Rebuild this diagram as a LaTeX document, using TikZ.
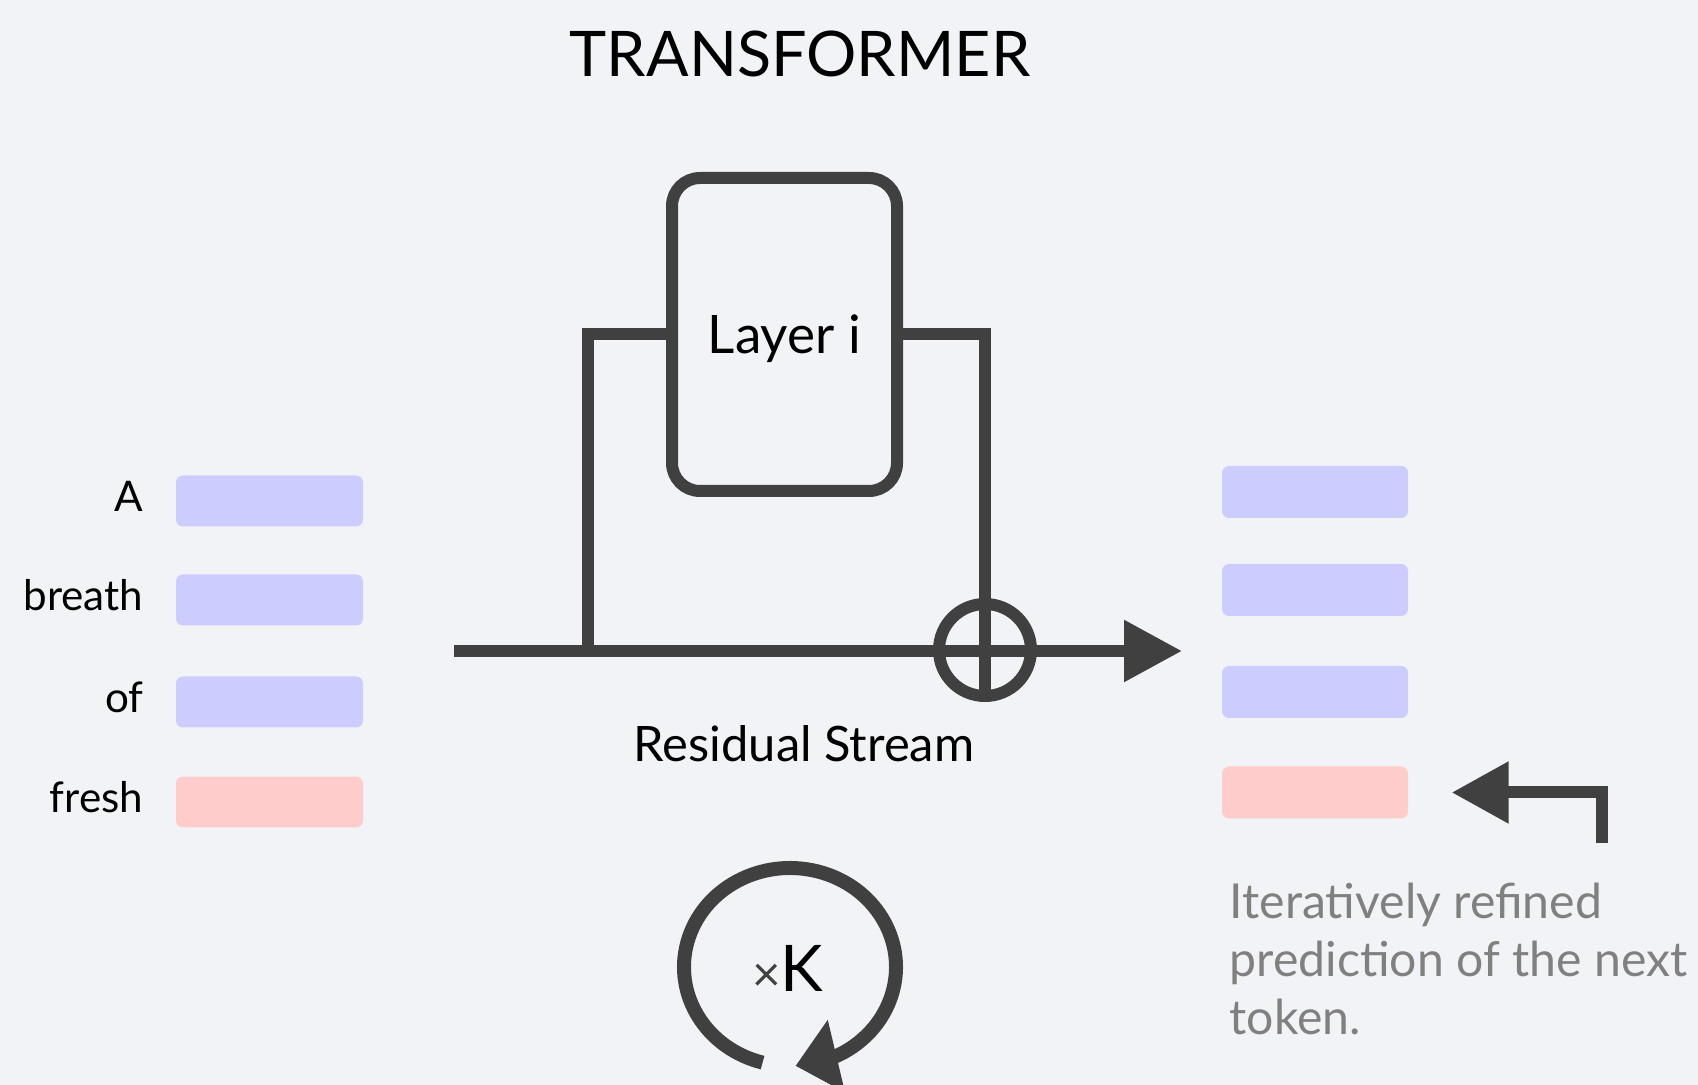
\documentclass[tikz,border=0pt]{standalone}
\usepackage{fontspec}
\setmainfont{Lato}
\usetikzlibrary{arrows.meta}
\usetikzlibrary{bending}
\usetikzlibrary{positioning}
\usepackage{xcolor}
\definecolor{bgcol}{HTML}{F2F3F7}
\definecolor{wirecol}{HTML}{404040}
\definecolor{tokblue}{HTML}{CCCCFF}
\definecolor{tokpink}{HTML}{FFCCCC}
\definecolor{notegray}{HTML}{808080}

\begin{document}
\begin{tikzpicture}[x=0.1mm, y=-0.1mm,
  wire/.style={draw=wirecol, line width=1.2mm},
  tokbar/.style={fill=#1, rounded corners=0.7mm, minimum width=18.7mm, minimum height=5.1mm, inner sep=0},
  word/.style={font=\fontsize{12}{14}\selectfont, anchor=base east, inner sep=0},
  looparc/.style={draw=wirecol, line width=1.4mm}]
\useasboundingbox (0,0) rectangle (1698,1085);
\clip (0,0) rectangle (1698,1085);
\fill[bgcol] (0,0) rectangle (1698,1085);

\node[font=\fontsize{17.9}{20}\selectfont, anchor=base] (title) at (800,77) {TRANSFORMER};

% input tokens
\foreach \y/\w/\c [count=\i] in {501/A/tokblue, 600/breath/tokblue, 702/of/tokblue, 802/fresh/tokpink} {
 \node[tokbar=\c] (in\i) at (269.5,\y) {};
 \node[word] (w\i) at (144,\y+11) {\w};
}

% layer with its skip connection
\node[wire, rounded corners=2.8mm, minimum width=22.5mm, minimum height=31.3mm, text depth=0pt,
  font=\fontsize{15.1}{18}\selectfont] (layer) at (784.5,334.5) {Layer i};
\node[wire, circle, minimum size=9.2mm, inner sep=0, outer sep=0] (plus) at (985,650) {};
\coordinate (src) at (454,651);
\coordinate (tap) at (588,651);
\coordinate (dst) at (1182,651);
\draw[wire, -{Triangle[length=5.8mm, width=5.9mm]}] (src) -- (dst);
\draw[wire] (layer.west) -| (tap);
\draw[wire] (layer.east) -| (plus.south);
\node[font=\fontsize{13.9}{16}\selectfont, anchor=base] (rs) at (804,762) {Residual Stream};

% output tokens
\foreach \y/\c [count=\i] in {492/tokblue, 590/tokblue, 692/tokblue, 792.5/tokpink}
 \node[tokbar=\c, minimum width=18.6mm, minimum height=5.2mm] (out\i) at (1315,\y) {};

\coordinate (hook) at (1601.5,843);
\draw[wire, -{Triangle[length=5.7mm, width=5.9mm]}] (hook) |- ([xshift=4.3mm]out4.east);
\node[font=\fontsize{13.7}{16.5}\selectfont, text=notegray, anchor=base west, align=left, inner sep=0] (note) at (1229,1034)
  {Iteratively refined\\prediction of the next\\token.};

% repeated K times
\coordinate (loopc) at (790,967);
\draw[looparc, -{Triangle[length=4.2mm, width=7.2mm, flex]}] ([shift={(105:106 and 99)}]loopc)
  arc[start angle=105, end angle=447, x radius=106, y radius=99];
\node[font=\fontsize{18.3}{20}\selectfont, anchor=base] (reps) at (788,991)
  {{\fontsize{14}{16}\selectfont\color{wirecol}×}K};
\end{tikzpicture}
\end{document}
